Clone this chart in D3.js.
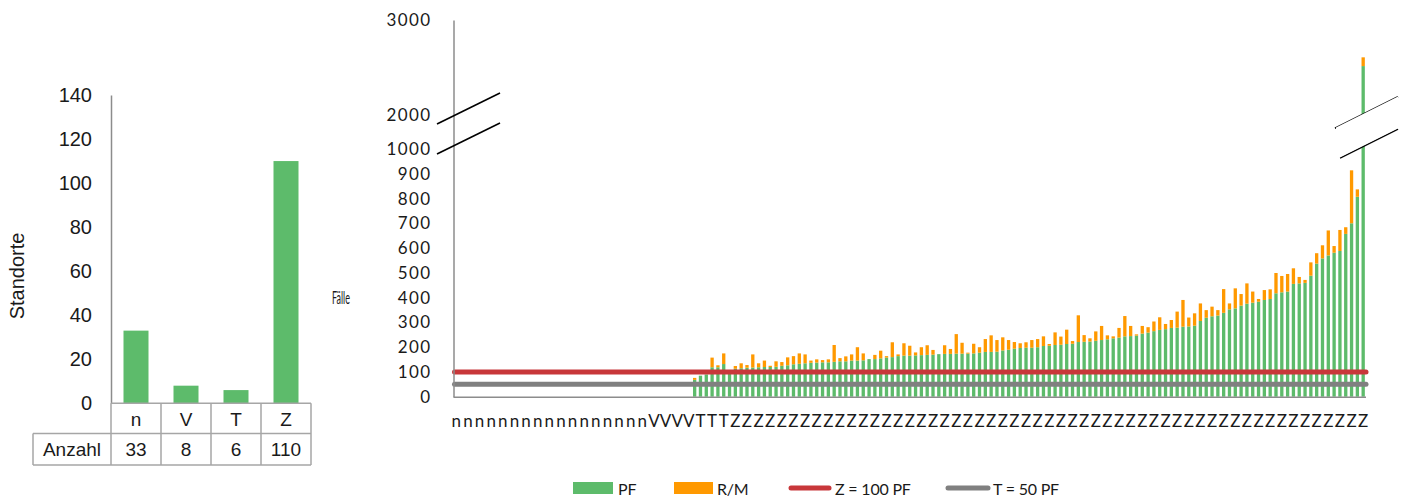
<!DOCTYPE html>
<html>
<head>
<meta charset="utf-8">
<script src="https://cdn.jsdelivr.net/npm/d3@7/dist/d3.min.js"></script>
<style>
  html, body { margin: 0; padding: 0; background: #fff; }
  svg { display: block; }
</style>
</head>
<body>
<svg id="chart" width="1415" height="500"></svg>
<script>
// ---- Site counts per category (left panel) ----
const categories = ["n", "V", "T", "Z"];
const siteCounts = [33, 8, 6, 110];
const siteTicks = [0, 20, 40, 60, 80, 100, 120, 140];
const rowLabel = "Anzahl";

// ---- Cases per site (right panel), sites ordered n, V, T, Z ----
// PF cases per site
const pfValues = [
  0,0,0,0,0,0,0,0,0,0,0,0,0,0,0,0,0,0,0,0,0,0,0,0,0,0,0,0,0,0,0,0,0,
  0,0,0,0,0,0,0,0,
  68,85,90,119,119,132,
  102,113,115,117,118,119,120,120,121,125,127,131,133,
  135,137,138,139,139,141,143,143,146,146,147,152,152,155,158,160,164,166,166,167,
  168,169,170,172,173,173,174,174,174,175,178,181,181,182,187,190,194,197,198,198,
  200,205,206,209,210,213,214,221,222,223,226,229,232,236,239,244,245,247,255,259,
  265,270,273,278,279,283,284,287,306,319,325,328,339,353,357,368,376,380,384,391,
  395,418,422,425,456,458,460,489,538,559,571,582,589,658,701,808,2515
];
// R/M cases per site
const rmValues = [
  0,0,0,0,0,0,0,0,0,0,0,0,0,0,0,0,0,0,0,0,0,0,0,0,0,0,0,0,0,0,0,0,0,
  0,0,0,0,0,0,0,0,
  8,0,0,39,8,43,
  0,11,20,11,53,16,26,5,22,15,32,33,42,
  36,9,13,9,12,68,13,20,25,54,28,0,17,31,6,60,7,50,40,12,
  32,39,19,0,35,20,79,44,4,39,22,52,67,47,53,39,27,19,22,31,
  33,39,7,51,33,58,11,108,27,13,38,57,16,8,39,82,41,5,31,22,
  39,51,21,32,65,108,36,50,71,31,39,22,96,24,81,47,82,45,11,40,
  39,82,66,71,63,26,12,54,42,53,101,27,85,27,214,30,92
];
const caseTicks = [0, 100, 200, 300, 400, 500, 600, 700, 800, 900, 1000, 2000, 3000];
const thresholdNames = ["Z = 100 PF", "T = 50 PF"];
const thresholdValues = [100, 50];
const seriesNames = ["PF", "R/M"];

const GREEN = "#5dbb6b", ORANGE = "#ff9900", RED = "#c8373a", GREY = "#808080";
const AXIS = "#8c8c8c";
const SANS = "'Liberation Sans', Arial, sans-serif";
const HUMAN = "Lato, 'Open Sans', sans-serif";

const svg = d3.select("#chart");

// =================== Left panel: sites per category ===================
const L = { x0: 111, x1: 311, yTop: 95, yBase: 403.3 };
const xL = d3.scaleBand().domain(categories).range([L.x0, L.x1]).paddingInner(0.5).paddingOuter(0.25);
const yL = d3.scaleLinear().domain([0, 140]).range([L.yBase, L.yTop]);

const left = svg.append("g").attr("font-family", SANS).attr("fill", "#1a1a1a");

left.selectAll("rect.site")
  .data(categories.map((c, i) => ({ c, v: siteCounts[i] })))
  .join("rect")
  .attr("class", "site")
  .attr("x", d => xL(d.c))
  .attr("width", xL.bandwidth())
  .attr("y", d => yL(d.v))
  .attr("height", d => yL(0) - yL(d.v))
  .attr("fill", GREEN);

const yAxisL = d3.axisLeft(yL).tickValues(siteTicks).tickSize(0).tickPadding(19);
const gyL = left.append("g").attr("transform", `translate(${L.x0},0)`).call(yAxisL);
gyL.select(".domain").attr("stroke", AXIS).attr("stroke-width", 1.5);
gyL.selectAll("text").attr("font-size", 20).attr("fill", "#1a1a1a").attr("font-family", SANS);

left.append("text")
  .attr("transform", "translate(17,276) rotate(-90)")
  .attr("text-anchor", "middle").attr("dominant-baseline", "central")
  .attr("font-size", 20).text("Standorte");

// data table under the axis
const row1 = [L.yBase, 433.5], row2 = [433.5, 465];
const tableLeft = 33;
const tbl = left.append("g").attr("stroke", "#a6a6a6").attr("stroke-width", 1.5).attr("fill", "none");
tbl.append("line").attr("x1", L.x0).attr("x2", L.x1).attr("y1", row1[0]).attr("y2", row1[0]);
tbl.append("line").attr("x1", tableLeft).attr("x2", L.x1).attr("y1", row2[0]).attr("y2", row2[0]);
tbl.append("line").attr("x1", tableLeft).attr("x2", L.x1).attr("y1", row2[1]).attr("y2", row2[1]);
tbl.append("line").attr("x1", tableLeft).attr("x2", tableLeft).attr("y1", row2[0]).attr("y2", row2[1]);
const step = xL.step();
d3.range(categories.length + 1).forEach(k => {
  const x = L.x0 + k * step;
  tbl.append("line").attr("x1", x).attr("x2", x).attr("y1", row1[0]).attr("y2", row2[1]);
});
left.selectAll("text.cat").data(categories).join("text").attr("class", "cat")
  .attr("x", d => xL(d) + xL.bandwidth() / 2).attr("y", (row1[0] + row1[1]) / 2 + 1)
  .attr("text-anchor", "middle").attr("dominant-baseline", "central")
  .attr("font-size", 19).text(d => d);
left.selectAll("text.cnt").data(siteCounts).join("text").attr("class", "cnt")
  .attr("x", (d, i) => xL(categories[i]) + xL.bandwidth() / 2).attr("y", (row2[0] + row2[1]) / 2)
  .attr("text-anchor", "middle").attr("dominant-baseline", "central")
  .attr("font-size", 19).text(d => d);
left.append("text").attr("x", (tableLeft + L.x0) / 2).attr("y", (row2[0] + row2[1]) / 2)
  .attr("text-anchor", "middle").attr("dominant-baseline", "central")
  .attr("font-size", 19).text(rowLabel);

// =================== Right panel: cases per site ===================
const R = { x0: 453.5, x1: 1366, yBase: 396.7 };
const siteLabels = categories.flatMap((c, i) => d3.range(siteCounts[i]).map(() => c));
const idx = d3.range(siteLabels.length);
const xR = d3.scaleBand().domain(idx).range([R.x0, R.x1]).paddingInner(0.43).paddingOuter(0.2);
// broken value axis: 0–1000 linear, then compressed 1000–2000 and 2000–3000
const yR = d3.scaleLinear().domain([0, 1000, 2000, 3000]).range([R.yBase, 149.3, 115, 20]);

const rows = idx.map(i => ({ i, PF: pfValues[i], "R/M": rmValues[i] }));
const stacked = d3.stack().keys(seriesNames)(rows);
const colors = { "PF": GREEN, "R/M": ORANGE };

const right = svg.append("g").attr("font-family", HUMAN).attr("fill", "#1a1a1a");

right.selectAll("g.series").data(stacked).join("g").attr("class", "series")
  .attr("fill", d => colors[d.key])
  .selectAll("rect").data(d => d).join("rect")
  .attr("x", d => xR(d.data.i))
  .attr("width", xR.bandwidth())
  .attr("y", d => yR(d[1]))
  .attr("height", d => Math.max(0, yR(d[0]) - yR(d[1])));

// threshold lines
const thrColors = [RED, GREY];
right.selectAll("line.thr").data(thresholdValues).join("line").attr("class", "thr")
  .attr("x1", R.x0 + 1).attr("x2", R.x1)
  .attr("y1", d => yR(d)).attr("y2", d => yR(d))
  .attr("stroke", (d, i) => thrColors[i]).attr("stroke-width", 5).attr("stroke-linecap", "round");

// axes
const yAxisR = d3.axisLeft(yR).tickValues(caseTicks).tickSize(0).tickPadding(22).tickFormat(d3.format("d"));
const gyR = right.append("g").attr("transform", `translate(${R.x0},0)`).call(yAxisR);
gyR.select(".domain").attr("stroke", AXIS).attr("stroke-width", 1.5);
gyR.selectAll("text").attr("font-size", 17).attr("letter-spacing", 1.4)
  .attr("fill", "#1a1a1a").attr("font-family", HUMAN);

right.append("line").attr("x1", R.x0).attr("x2", R.x1).attr("y1", R.yBase + 0.5).attr("y2", R.yBase + 0.5)
  .attr("stroke", AXIS).attr("stroke-width", 1.5);

// site labels, every second site
right.selectAll("text.site").data(idx.filter(i => i % 2 === 0)).join("text").attr("class", "site")
  .attr("x", i => xR(i) + xR.bandwidth() / 2).attr("y", 420)
  .attr("text-anchor", "middle").attr("dominant-baseline", "central")
  .attr("font-size", 17).text(i => siteLabels[i]);

// axis title
right.append("text").attr("x", 341).attr("y", 297)
  .attr("text-anchor", "middle").attr("dominant-baseline", "central")
  .attr("font-size", 17).attr("textLength", 18).attr("lengthAdjust", "spacingAndGlyphs")
  .attr("fill", "#1a1a1a")
  .text("Fälle");

// break marks on the value axis
const brk = right.append("g").attr("stroke", "#000").attr("stroke-width", 1.6).attr("fill", "none");
brk.append("line").attr("x1", 437).attr("y1", 124).attr("x2", 500).attr("y2", 93);
brk.append("line").attr("x1", 437).attr("y1", 154).attr("x2", 500).attr("y2", 123);
// break across the tallest bar
right.append("polygon")
  .attr("points", "1336,127.5 1398,96.5 1398,128.5 1336,159.5")
  .attr("fill", "#fff");
brk.append("line").attr("x1", 1335).attr("y1", 128.3).attr("x2", 1398).attr("y2", 96.8);
brk.append("line").attr("x1", 1340).attr("y1", 158).attr("x2", 1398).attr("y2", 129);

// legend
const legend = right.append("g").attr("font-size", 16).attr("letter-spacing", -0.2);
const legY = 488;
legend.append("rect").attr("x", 573).attr("y", legY - 6).attr("width", 40).attr("height", 12).attr("fill", GREEN);
legend.append("text").attr("x", 618).attr("y", legY).attr("dominant-baseline", "central").text(seriesNames[0]);
legend.append("rect").attr("x", 674).attr("y", legY - 6).attr("width", 39).attr("height", 12).attr("fill", ORANGE);
legend.append("text").attr("x", 717).attr("y", legY).attr("dominant-baseline", "central").text(seriesNames[1]);
legend.append("line").attr("x1", 791).attr("x2", 829).attr("y1", legY).attr("y2", legY)
  .attr("stroke", RED).attr("stroke-width", 5).attr("stroke-linecap", "round");
legend.append("text").attr("x", 835).attr("y", legY).attr("dominant-baseline", "central").text(thresholdNames[0]);
legend.append("line").attr("x1", 948).attr("x2", 988).attr("y1", legY).attr("y2", legY)
  .attr("stroke", GREY).attr("stroke-width", 5).attr("stroke-linecap", "round");
legend.append("text").attr("x", 993).attr("y", legY).attr("dominant-baseline", "central").text(thresholdNames[1]);
</script>
</body>
</html>
